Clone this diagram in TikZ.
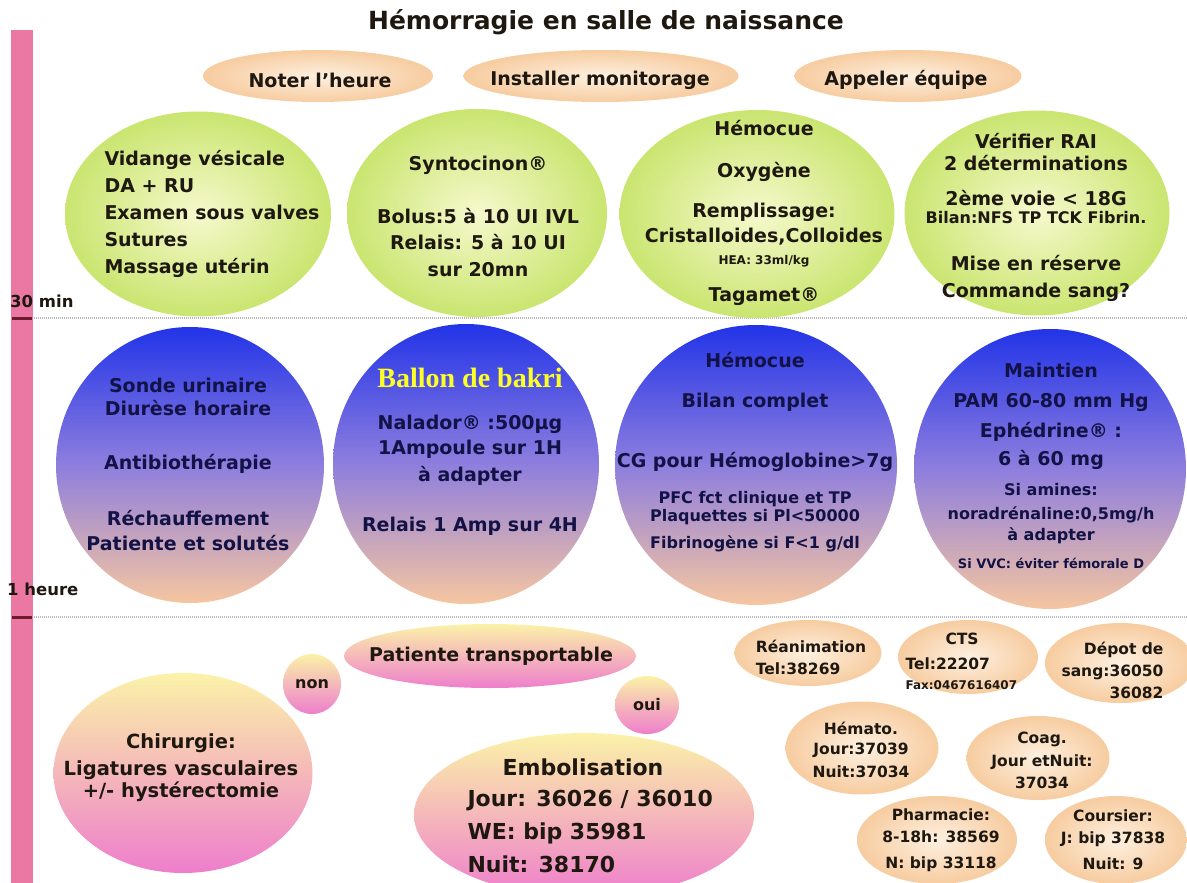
\documentclass[tikz,border=0pt]{standalone}
\usepackage{fontspec}
\setmainfont{DejaVu Sans}
\newfontfamily\bakrifont{Liberation Serif}
\usetikzlibrary{shapes.geometric}

\definecolor{limein}{RGB}{246,249,205}
\definecolor{limeout}{RGB}{202,229,112}
\definecolor{bluetop}{RGB}{34,52,232}
\definecolor{bluemid}{RGB}{142,126,222}
\definecolor{bluebot}{RGB}{246,198,160}
\definecolor{rosetop}{RGB}{251,242,168}
\definecolor{rosebot}{RGB}{238,126,204}
\definecolor{peachin}{RGB}{253,240,224}
\definecolor{peachout}{RGB}{247,204,160}
\definecolor{barpink}{RGB}{234,120,162}
\definecolor{tickred}{RGB}{110,28,44}
\definecolor{inkdark}{RGB}{30,24,16}
\definecolor{inknavy}{RGB}{18,18,70}
\definecolor{bakri}{RGB}{255,255,40}

\begin{document}
\begin{tikzpicture}[x=1pt, y=-1pt,
    wh/.style 2 args={minimum width=#1pt, minimum height=#2pt},
    ball/.style={ellipse, inner sep=0pt, draw=none},
    lime/.style={ball, inner color=limein, outer color=limeout},
    night/.style={ball, top color=bluetop, bottom color=bluebot, middle color=bluemid},
    rose/.style={ball, top color=rosetop, bottom color=rosebot},
    peach/.style={ball, inner color=peachin, outer color=peachout},
    big/.style={font=\bfseries\fontsize{19}{23}\selectfont, align=center, text=inkdark},
    large/.style={font=\bfseries\fontsize{22}{26}\selectfont, align=center, text=inkdark},
    mid/.style={font=\bfseries\fontsize{16}{23}\selectfont, align=center, text=inkdark},
    tel/.style={font=\bfseries\fontsize{15.5}{23}\selectfont, align=center, text=inkdark},
    sep/.style={gray!55, line width=1.2pt, dash pattern=on 1pt off 1pt},
    tick/.style={tickred, line width=3pt},
    when/.style={font=\bfseries\fontsize{16.5}{20}\selectfont, text=inkdark, inner sep=0pt, anchor=west}
]
\useasboundingbox (0,0) rectangle (1187,883);

% time axis
\fill[barpink] (11,30) rectangle (33,883);
\draw[sep] (34,318) -- (1187,318);
\draw[sep] (34,617) -- (1187,617);
\draw[tick] (12,318) -- (32,318);
\draw[tick] (12,617) -- (32,617);
\node[when] (halfhour) at (10,301) {30 min};
\node[when] (onehour) at (7,589) {1 heure};

% title
\node[font=\bfseries\fontsize{25}{30}\selectfont, text=inkdark] (title) at (606,22) {Hémorragie en salle de naissance};

% first steps
\node[peach, wh={230}{52}] (heure) at (318,76) {};
\node[big] (heuretxt) at (320,80) {Noter l'heure};
\node[peach, wh={275}{52}] (monitor) at (601,76) {};
\node[big] (monitortxt) at (600,80) {Installer monitorage};
\node[peach, wh={227}{52}] (equipe) at (908,76) {};
\node[big] (equipetxt) at (906,80) {Appeler équipe};

% 0 - 30 min
\node[lime, wh={266}{205}] (vidange) at (198,214) {};
\node[big, align=left] (vidangetxt) at (212,214) {Vidange vésicale\\[4pt]DA + RU\\[4pt]Examen sous valves\\[4pt]Sutures\\[4pt]Massage utérin};

\node[lime, wh={260}{208}] (synto) at (477,213) {};
\node[big] (syntotxt) at (478,216) {Syntocinon®\\[30pt]Bolus:5 à 10 UI IVL\\[3pt]Relais: 5 à 10 UI\\[4pt]sur 20mn};

\node[lime, wh={275}{208}] (remplir) at (757,214) {};
\node[big] (remplirtxt) at (764,213) {Hémocue\\[19pt]Oxygène\\[17pt]Remplissage:\\[2pt]Cristalloides,Colloides\\[-1pt]{\fontsize{12}{14}\selectfont HEA: 33ml/kg}\\[14pt]Tagamet®};

\node[lime, wh={265}{205}] (rai) at (1037,213) {};
\node[big] (raitxt) at (1036,217) {Vérifier RAI\\[-1pt]2 déterminations\\[12pt]2ème voie < 18G\\[-5pt]{\fontsize{16}{18}\selectfont Bilan:NFS TP TCK Fibrin.}\\[24pt]Mise en réserve\\[4pt]Commande sang?};

% 30 min - 1 heure
\node[night, wh={268}{276}] (sonde) at (190,465) {};
\node[big, text=inknavy] (sondetxt) at (188,464) {Sonde urinaire\\[0pt]Diurèse horaire\\[31pt]Antibiothérapie\\[33pt]Réchauffement\\[2pt]Patiente et solutés};

\node[night, wh={266}{280}] (bakri) at (466,464) {};
\node[big, text=inknavy] (bakritxt) at (470,452) {{\bakrifont\fontsize{28}{30}\selectfont\color{bakri}Ballon de bakri}\\[19pt]Nalador® :500µg\\[2pt]1Ampoule sur 1H\\[4pt]à adapter\\[27pt]Relais 1 Amp sur 4H};

\node[night, wh={282}{280}] (bilan) at (756,465) {};
\node[big, text=inknavy] (bilantxt) at (755,452) {Hémocue\\[17pt]Bilan complet\\[37pt]CG pour Hémoglobine>7g\\[13pt]{\fontsize{16}{18}\selectfont PFC fct clinique et TP}\\[-5pt]{\fontsize{16}{18}\selectfont Plaquettes si Pl<50000}\\[4pt]{\fontsize{16}{18}\selectfont Fibrinogène si F<1 g/dl}};

\node[night, wh={272}{280}] (pam) at (1050,469) {};
\node[big, text=inknavy] (pamtxt) at (1051,466) {Maintien\\[7pt]PAM 60-80 mm Hg\\[7pt]Ephédrine® :\\[5pt]6 à 60 mg\\[7pt]{\fontsize{16}{18}\selectfont Si amines:}\\[1pt]{\fontsize{16}{18}\selectfont noradrénaline:0,5mg/h}\\[-2pt]{\fontsize{16}{18}\selectfont à adapter}\\[5pt]{\fontsize{13}{15}\selectfont Si VVC: éviter fémorale D}};

% after 1 heure
\node[rose, wh={292}{64}] (transport) at (490,656) {};
\node[big] (transporttxt) at (491,656) {Patiente transportable};
\node[rose, wh={58}{60}] (non) at (312,684) {};
\node[mid] (nontxt) at (non) {non};
\node[rose, wh={64}{58}] (oui) at (647,705) {};
\node[mid] (ouitxt) at (oui) {oui};

\node[rose, wh={259}{200}] (chir) at (183,773) {};
\node[big, font=\bfseries\fontsize{19.5}{23}\selectfont] (chirtxt) at (181,768) {Chirurgie:\\[4pt]Ligatures vasculaires\\[-1pt]+/- hystérectomie};

\node[rose, wh={340}{164}] (embol) at (584,815) {};
\node[large] (emboltitle) at (583,767) {Embolisation};
\node[large, align=left, anchor=north west] (emboltxt) at (464,787) {Jour: 36026 / 36010\\[7pt]WE: bip 35981\\[7pt]Nuit: 38170};

% phone numbers
\node[peach, wh={147}{66}] (rea) at (808,653) {};
\node[tel, align=left] (reatxt) at (811,657) {Réanimation\\[-1pt]Tel:38269};
\node[peach, wh={140}{74}] (cts) at (968,657) {};
\node[tel, align=left, anchor=west] (ctstxt) at (902,661) {\hspace*{40pt}CTS\\[2pt]Tel:22207\\[-3pt]{\fontsize{12}{14}\selectfont Fax:0467616407}};
\node[peach, wh={150}{80}] (depot) at (1120,663) {};
\node[tel, align=right, anchor=east] (depottxt) at (1167,670) {Dépot de\\[-1pt]sang:36050\\[-1pt]36082};
\node[peach, wh={153}{93}] (hemato) at (862,748) {};
\node[tel] (hematotxt) at (861,750) {Hémato.\\[-3pt]Jour:37039\\[0pt]Nuit:37034};
\node[peach, wh={143}{84}] (coag) at (1038,758) {};
\node[tel] (coagtxt) at (1042,760) {Coag.\\[0pt]Jour etNuit:\\[-1pt]37034};
\node[peach, wh={160}{88}] (pharma) at (937,840) {};
\node[tel] (pharmatxt) at (941,840) {Pharmacie:\\[-1pt]8-18h: 38569\\[3pt]N: bip 33118};
\node[peach, wh={142}{88}] (coursier) at (1116,840) {};
\node[tel] (coursiertxt) at (1113,840) {Coursier:\\[-1pt]J: bip 37838\\[3pt]Nuit: 9};

\end{tikzpicture}
\end{document}
